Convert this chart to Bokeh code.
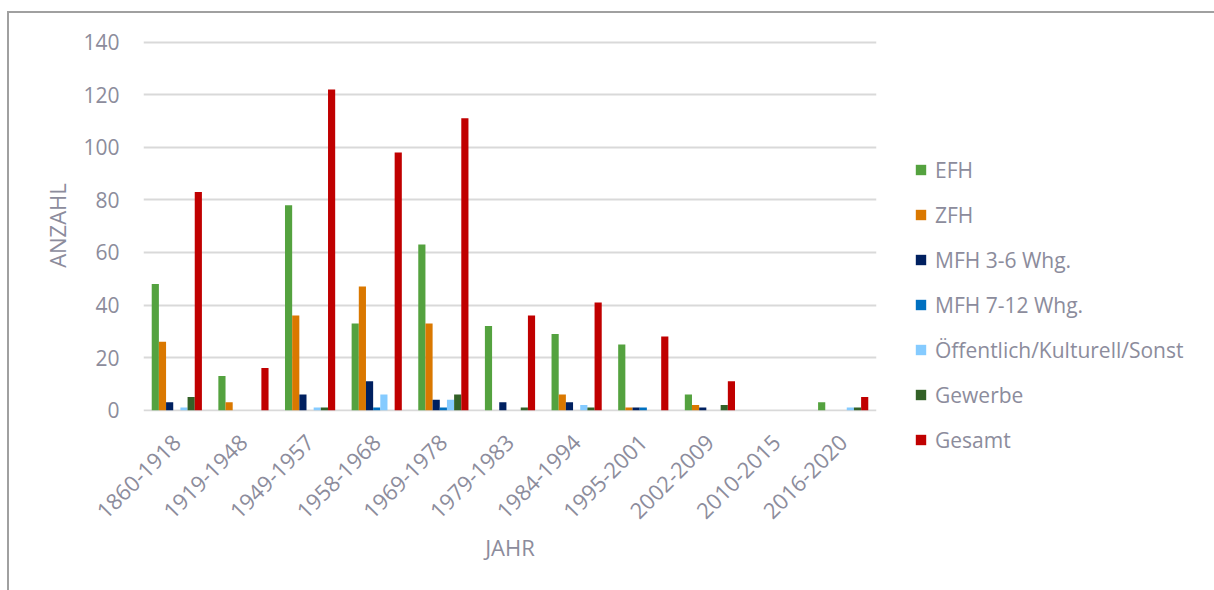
import math
from bokeh.plotting import figure
from bokeh.models import (FactorRange, ColumnDataSource, Legend, LegendItem,
                          SingleIntervalTicker, Range1d)
from bokeh.transform import dodge
from bokeh.embed import file_html
from bokeh.resources import INLINE

categories = ["1860-1918", "1919-1948", "1949-1957", "1958-1968", "1969-1978",
              "1979-1983", "1984-1994", "1995-2001", "2002-2009", "2010-2015",
              "2016-2020"]
efh    = [48, 13, 78, 33, 63, 32, 29, 25, 6, 0, 3]
zfh    = [26, 3, 36, 47, 33, 0, 6, 1, 2, 0, 0]
mfh36  = [3, 0, 6, 11, 4, 3, 3, 1, 1, 0, 0]
mfh712 = [0, 0, 0, 1, 1, 0, 0, 1, 0, 0, 0]
oeff   = [1, 0, 1, 6, 4, 0, 2, 0, 0, 0, 1]
gew    = [5, 0, 1, 0, 6, 1, 1, 0, 2, 0, 1]
gesamt = [83, 16, 122, 98, 111, 36, 41, 28, 11, 0, 5]

series_names = ["EFH", "ZFH", "MFH 3-6 Whg.", "MFH 7-12 Whg.",
                "Öffentlich/Kulturell/Sonst", "Gewerbe", "Gesamt"]
series_keys = ["efh", "zfh", "mfh36", "mfh712", "oeff", "gew", "gesamt"]
colors = ["#54A23F", "#DA7800", "#002060", "#0070C0", "#85CBFF", "#336127", "#C00000"]

source = ColumnDataSource(dict(cat=categories, efh=efh, zfh=zfh, mfh36=mfh36,
                               mfh712=mfh712, oeff=oeff, gew=gew, gesamt=gesamt))

TEXT = "#8C8C9C"
FONT = "Open Sans"

border_css = """
:host::after {
  content: "";
  position: absolute;
  box-sizing: border-box;
  left: 7px; top: 11px; width: 1207px; height: 579px;
  border-top: 2px solid #A0A0A0;
  border-left: 2px solid #A0A0A0;
  pointer-events: none;
}
"""

p = figure(x_range=FactorRange(*categories, range_padding=0),
           y_range=Range1d(-0.5, 141),
           frame_width=733, frame_height=372,
           output_backend="svg", toolbar_location=None,
           min_border_left=143, min_border_right=0, min_border_top=39,
           min_border_bottom=175)
p.x_range.factor_padding = 0
p.stylesheets = [border_css]

bw = 0.1076
items = []
for i, (k, name, c) in enumerate(zip(series_keys, series_names, colors)):
    r = p.vbar(x=dodge("cat", (i - 3) * bw, range=p.x_range), top=k, bottom=0,
               width=bw, source=source, fill_color=c, line_color=None)
    items.append(LegendItem(label=name, renderers=[r]))

legend = Legend(items=items, location=(38, -43), padding=0, margin=0,
                border_line_color=None, background_fill_alpha=0,
                glyph_width=13, glyph_height=13, label_standoff=8,
                label_height=29, spacing=16,
                label_text_font=FONT, label_text_font_size="21px",
                label_text_color=TEXT)
p.add_layout(legend, "right")

p.outline_line_color = None
p.xgrid.grid_line_color = None
p.ygrid.grid_line_color = "#D9D9D9"
p.ygrid.grid_line_width = 2
p.yaxis.ticker = SingleIntervalTicker(interval=20)

for ax in (p.xaxis[0], p.yaxis[0]):
    ax.axis_line_color = None
    ax.major_tick_line_color = None
    ax.minor_tick_line_color = None
    ax.major_label_text_color = TEXT
    ax.major_label_text_font = FONT
    ax.axis_label_text_color = TEXT
    ax.axis_label_text_font = FONT
    ax.axis_label_text_font_size = "22px"
    ax.axis_label_text_font_style = "normal"

p.yaxis.major_label_text_font_size = "21px"
p.xaxis.major_label_text_font_size = "22px"
p.yaxis.axis_label = "ANZAHL"
p.yaxis.major_label_standoff = 18
p.yaxis.axis_label_standoff = 8
p.xaxis.axis_label = "JAHR"
p.xaxis.major_label_orientation = math.pi / 4
p.xaxis.major_label_standoff = 21
p.xaxis.axis_label_standoff = 3

open("out.html", "w").write(file_html(p, INLINE))
